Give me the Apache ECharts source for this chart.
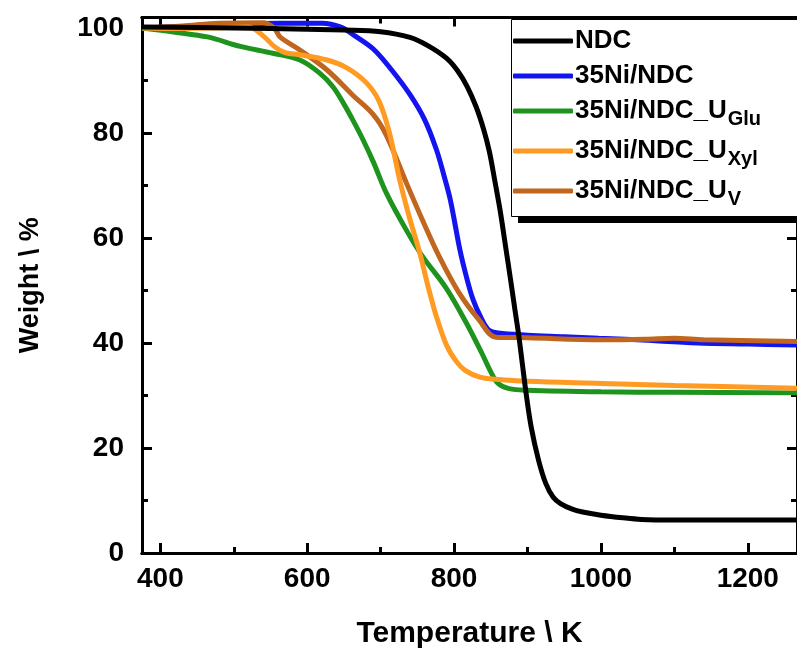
<!DOCTYPE html>
<html>
<head>
<meta charset="utf-8">
<script src="https://cdn.jsdelivr.net/npm/echarts@6/dist/echarts.min.js"></script>
<style>
  html, body { margin: 0; padding: 0; background: #fff; }
  #chart { width: 797px; height: 655px; }
</style>
</head>
<body>
<div id="chart"></div>
<script>
// Thermogravimetric curves: weight (%) against temperature (K)
const tempNDC = [375, 450, 550, 650, 700, 740, 766, 790, 805, 818, 830, 840, 848, 856, 863, 870, 877, 883, 888, 893, 898, 905, 915, 925, 935, 945, 960, 975, 1000, 1030, 1055, 1100, 1267];
const wNDC    = [100.2, 100.1, 99.9, 99.6, 99.3, 98.2, 96.5, 94.2, 91.8, 88.8, 85.0, 80.8, 76.5, 70.5, 65.0, 58.5, 52.0, 46.2, 41.5, 36.0, 30.5, 24.0, 17.7, 13.2, 10.6, 9.4, 8.4, 7.8, 7.2, 6.7, 6.4, 6.3, 6.3];

const tempNi = [375, 500, 560, 620, 645, 665, 690, 715, 740, 760, 776, 786, 795, 808, 817, 826, 836, 847, 860, 900, 950, 997, 1050, 1132, 1200, 1267];
const wNi    = [100.0, 100.6, 100.9, 100.9, 100.2, 98.5, 96.0, 92.0, 87.3, 82.5, 76.8, 72.0, 67.2, 57.7, 52.5, 48.2, 45.0, 42.5, 41.9, 41.5, 41.2, 40.9, 40.6, 40.0, 39.8, 39.6];

const tempGlu = [375, 420, 464, 509, 553, 590, 617, 635, 650, 662, 675, 690, 708, 735, 757, 789, 816, 838, 850, 860, 875, 900, 1000, 1100, 1267];
const wGlu    = [100.0, 99.2, 98.3, 96.5, 95.2, 93.9, 91.4, 88.8, 85.5, 82.5, 79.0, 74.5, 68.5, 61.5, 56.5, 50.5, 44.0, 38.0, 34.5, 32.3, 31.3, 31.0, 30.7, 30.6, 30.5];

const tempXyl = [375, 420, 470, 520, 540, 555, 570, 590, 627, 654, 681, 698, 712, 726, 739, 753, 766, 776, 790, 803, 815, 835, 857, 900, 1000, 1100, 1267];
const wXyl    = [100.0, 99.9, 100.0, 100.2, 98.5, 96.5, 95.3, 94.9, 93.9, 92.4, 89.5, 86.0, 80.0, 71.0, 64.0, 57.3, 50.0, 45.0, 39.5, 36.5, 34.8, 33.5, 33.1, 32.7, 32.3, 31.9, 31.4];

const tempV = [375, 430, 480, 540, 555, 563, 590, 627, 662, 690, 708, 735, 757, 780, 807, 834, 857, 900, 1000, 1060, 1100, 1140, 1267];
const wV    = [100.0, 100.4, 100.9, 101.0, 100.0, 98.3, 95.8, 92.0, 87.2, 83.5, 79.5, 70.5, 63.4, 56.4, 49.5, 44.4, 41.1, 41.0, 40.6, 40.7, 40.9, 40.6, 40.3];

// Legend labels: main part and subscript
const legendMain = ['NDC', '35Ni/NDC', '35Ni/NDC_U', '35Ni/NDC_U', '35Ni/NDC_U'];
const legendSub  = ['', '', 'Glu', 'Xyl', 'V'];
const seriesColors = ['#000000', '#1414f0', '#1e941e', '#ff9a22', '#c0661e'];

// Axis ticks
const xMajor = [400, 600, 800, 1000, 1200];
const xMinor = [500, 700, 900, 1100];
const yMajor = [0, 20, 40, 60, 80, 100];
const yMinor = [10, 30, 50, 70, 90];

const names = legendMain.map((m, i) => m + legendSub[i]);
const pairs = (xs, ys) => xs.map((x, i) => [x, ys[i]]);
const curves = [pairs(tempNDC, wNDC), pairs(tempNi, wNi), pairs(tempGlu, wGlu), pairs(tempXyl, wXyl), pairs(tempV, wV)];

const FONT = '"Liberation Sans", Arial, sans-serif';
const X_MIN = 375, X_MAX = 1267, Y_MIN = 0, Y_MAX = 102;

function xAxisDef(pos, ticks, len, labels, extra) {
  return Object.assign({
    type: 'value', position: pos, min: X_MIN, max: X_MAX,
    axisLine: { show: true, onZero: false, lineStyle: { color: '#000', width: 3 } },
    axisTick: { show: true, inside: true, length: len, customValues: ticks, lineStyle: { color: '#000', width: 3 } },
    axisLabel: labels ? { show: true, customValues: ticks, formatter: v => String(v), color: '#000', fontFamily: FONT, fontWeight: 'bold', fontSize: 28, margin: 12 } : { show: false },
    splitLine: { show: false }
  }, extra || {});
}
function yAxisDef(pos, ticks, len, labels, extra) {
  return Object.assign({
    type: 'value', position: pos, min: Y_MIN, max: Y_MAX,
    axisLine: { show: true, onZero: false, lineStyle: { color: '#000', width: 3 } },
    axisTick: { show: true, inside: true, length: len, customValues: ticks, lineStyle: { color: '#000', width: 3 } },
    axisLabel: labels ? { show: true, customValues: ticks, formatter: v => String(v), color: '#000', fontFamily: FONT, fontWeight: 'bold', fontSize: 28, margin: 18 } : { show: false },
    splitLine: { show: false }
  }, extra || {});
}

const chart = echarts.init(document.getElementById('chart'), null, { renderer: 'canvas' });

// draw order: black curve on top
const drawOrder = [1, 4, 2, 3, 0];

chart.setOption({
  backgroundColor: '#ffffff',
  animation: false,
  grid: { left: 142, top: 17.5, width: 658, height: 535.5 },
  // legend frame with a hard drop shadow, running past the right edge
  graphic: [
    { type: 'rect', z: 10, shape: { x: 518, y: 24, width: 400, height: 199 }, style: { fill: '#000' } },
    { type: 'rect', z: 11, shape: { x: 511.5, y: 19.5, width: 400, height: 197 }, style: { fill: '#fff', stroke: '#000', lineWidth: 1 } }
  ],
  xAxis: [
    xAxisDef('bottom', xMajor, 10, true, {
      name: 'Temperature \\ K', nameLocation: 'middle', nameGap: 66,
      nameTextStyle: { color: '#000', fontFamily: FONT, fontWeight: 'bold', fontSize: 30 }
    }),
    xAxisDef('bottom', xMinor, 6, false),
    xAxisDef('top', xMajor, 9, false),
    xAxisDef('top', xMinor, 6, false)
  ],
  yAxis: [
    yAxisDef('left', yMajor, 10, true, {
      name: 'Weight \\ %', nameLocation: 'middle', nameGap: 98,
      nameTextStyle: { color: '#000', fontFamily: FONT, fontWeight: 'bold', fontSize: 27 }
    }),
    yAxisDef('left', yMinor, 6, false),
    yAxisDef('right', yMajor, 10, false),
    yAxisDef('right', yMinor, 6, false)
  ],
  legend: {
    data: names,
    orient: 'vertical',
    left: 511, top: 19,
    z: 20,
    padding: [9, 10, 9, 2],
    itemGap: 9,
    itemWidth: 60, itemHeight: 5,
    icon: 'roundRect',
    formatter: name => {
      const i = names.indexOf(name);
      return legendSub[i] ? '{m|' + legendMain[i] + '}{s|' + legendSub[i] + '}' : '{m|' + legendMain[i] + '}';
    },
    textStyle: {
      padding: [0, 0, 0, -3],
      rich: {
        m: { fontFamily: FONT, fontWeight: 'bold', fontSize: 26, color: '#000', lineHeight: 24 },
        s: { fontFamily: FONT, fontWeight: 'bold', fontSize: 20, color: '#000', padding: [8, 0, -8, 1], lineHeight: 20 }
      }
    }
  },
  series: drawOrder.map(i => ({
    name: names[i],
    type: 'line',
    data: curves[i],
    smooth: 0.35,
    showSymbol: false,
    clip: true,
    lineStyle: { color: seriesColors[i], width: 5 },
    itemStyle: { color: seriesColors[i] },
    z: 2 + drawOrder.indexOf(i)
  }))
});
</script>
</body>
</html>
